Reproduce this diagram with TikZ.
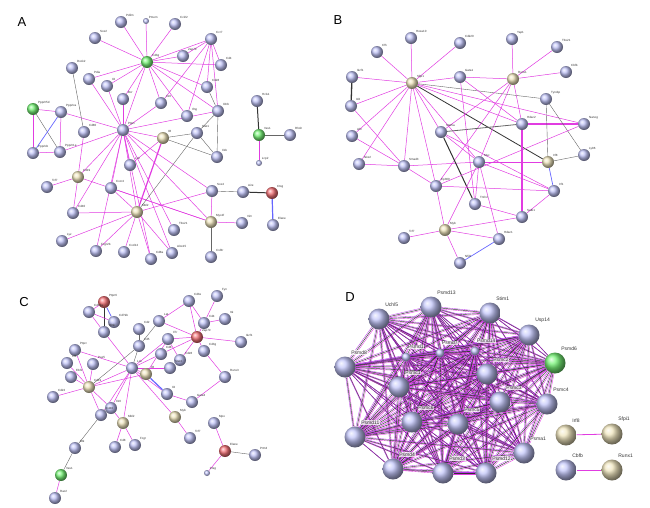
\documentclass[tikz,border=0pt]{standalone}
\usepackage{fontspec}
\setmainfont{Liberation Sans}
\usetikzlibrary{backgrounds,calc}
\definecolor{bl}{RGB}{195,198,250}
\definecolor{tn}{RGB}{240,230,190}
\definecolor{gn}{RGB}{120,245,120}
\definecolor{rd}{RGB}{245,115,120}
\definecolor{mg}{RGB}{225,60,225}
\tikzset{
 nb/.style={circle,shading=ball,minimum size=12pt,inner sep=0pt},
 lbl/.style={font=\fontsize{3}{3}\selectfont,anchor=south west,inner sep=0.5pt,text=black!80},
 lblD/.style={font=\fontsize{5}{5}\selectfont,anchor=south west,inner sep=0.6pt,text=black!80,fill=white,fill opacity=0.75,text opacity=1},
 e/.style={mg,line width=0.5pt},
 g/.style={black!60,line width=0.4pt},
 k/.style={black!80,line width=1pt},
 bu/.style={blue!60,line width=0.7pt},
 panel/.style={font=\fontsize{13}{13}\selectfont},
}
\newcommand\nd[6][]{\node[nb,ball color=#5,#1] (#2) at (#3,#4) {}; \node[lbl] at (#2.north east) {#6};}
\newcommand\ndD[6][]{\node[nb,ball color=#5,minimum size=21pt,#1] (#2) at (#3,#4) {}; \node[lblD] at ($(#2.north east)+(-2,-4)$) {#6};}
\begin{document}
\begin{tikzpicture}[x=1pt,y=-1pt]
\useasboundingbox (0,0) rectangle (650,507);
\node[panel] (LA) at (22,22) {A};
\node[panel] (LB) at (338,20) {B};
\node[panel] (LC) at (24,302) {C};
\node[panel] (LD) at (350,297) {D};
% ---------------- A
\nd{apdl}{121}{22}{bl}{Pdlim}
\nd[minimum size=6pt]{apme}{146}{21}{bl}{Pmem}
\nd{accl}{175}{24}{bl}{Ccl22}
\nd{asox}{95}{38}{bl}{Sox2}
\nd{accr}{211}{39}{bl}{Ccr7}
\nd{acd3}{147}{62}{gn}{Cd3g}
\nd{azap}{183}{56}{bl}{Zap70}
\nd{acd4}{221}{65}{bl}{Cd4}
\nd{adkd}{72}{68}{bl}{Dock2}
\nd{apdi}{89}{79}{bl}{Pdia}
\nd{ailb}{107}{86}{bl}{Il2}
\nd{acdz}{207}{87}{bl}{Cd28}
\nd{abcr}{123}{99}{bl}{Bcr}
\nd{ailt}{161}{103}{bl}{Il10}
\nd{aifn}{187}{116}{bl}{Ifng}
\nd{ail2}{218}{111}{bl}{Il2rb}
\nd{ppg}{33}{109}{gn}{Ppp2r5d}
\nd{ppa}{61}{112}{bl}{Ppp2ca}
\nd{acd8}{84}{132}{bl}{Cd80}
\nd{apt}{123}{130}{bl}{Ptprc}
\nd{ail6}{163}{138}{tn}{Il6}
\nd{ast}{197}{133}{bl}{Stat1}
\nd{ppb}{33}{153}{bl}{Ppp2cb}
\nd{ppr}{60}{152}{bl}{Ppp2r1a}
\nd{ailx}{217}{157}{bl}{Il1b}
\nd{amid}{130}{165}{bl}{Lck}
\nd{acd19}{78}{177}{tn}{Cd19}
\nd{atnf}{47}{187}{bl}{Tcf7}
\nd{acx}{111}{188}{bl}{Cxcr4}
\nd{asx4}{212}{191}{bl}{Sox4}
\nd{aai}{243}{192}{bl}{Aire}
\nd{ard}{272}{193}{rd}{Ctsg}
\nd{acd40}{73}{213}{bl}{Cd40}
\nd{ambl}{137}{212}{tn}{Mbl2}
\nd{amyo}{211}{222}{tn}{Myo1f}
\nd{avim}{242}{223}{bl}{Vim}
\nd{ael}{273}{225}{bl}{Elane}
\nd{atbx}{174}{230}{bl}{Tbx21}
\nd{ax1}{62}{241}{bl}{Lyz}
\nd{afc}{96}{251}{bl}{Fcgr2b}
\nd{acx1}{124}{252}{bl}{Cxcl12}
\nd{acd8b}{151}{259}{bl}{Cd8a}
\nd{aal}{172}{253}{bl}{Alox15}
\nd{acs}{211}{257}{bl}{Csf3r}
\nd{ar1}{257}{101}{bl}{Hcls1}
\nd{ar2}{259}{135}{gn}{Vav1}
\nd{ar3}{290}{135}{bl}{Rhoh}
\nd[minimum size=6pt]{ar4}{259}{163}{bl}{Lcp2}
% ---------------- B
\nd{bhox}{411}{38}{bl}{Hoxa10}
\nd{bcfh}{377}{52}{bl}{Cfh}
\nd{bcdk}{460}{43}{bl}{Cdk20}
\nd{byap}{512}{39}{bl}{Yap1}
\nd{btbx}{557}{47}{bl}{Tbx21}
\nd{bcbf}{566}{72}{bl}{Cbfb}
\nd{bikt}{352}{77}{bl}{Ikzf1}
\nd{bsf}{412}{83}{tn}{Sfpi1}
\nd{bga}{460}{77}{bl}{Gata1}
\nd{bru}{513}{79}{tn}{Runx1}
\nd{bty}{546}{99}{bl}{Tyrobp}
\nd{bid}{351}{106}{bl}{Id2}
\nd{bhd}{522}{124}{bl}{Hdac2}
\nd{bna}{584}{124}{bl}{Nanog}
\nd{bah}{352}{136}{bl}{Ahr}
\nd{bst}{441}{132}{bl}{Stat5a}
\nd{bir}{548}{162}{tn}{Irf8}
\nd{bly}{584}{155}{bl}{Ly86}
\nd{bnk}{359}{164}{bl}{Nkx2}
\nd{bsm}{404}{166}{bl}{Smad3}
\nd{bmy}{479}{162}{bl}{Myc}
\nd{bep}{436}{186}{bl}{Ep300}
\nd{bi1}{554}{191}{bl}{Irf1}
\nd{btn}{475}{204}{bl}{Tnfrsf}
\nd{bsa}{522}{217}{bl}{Satb1}
\nd{bmb}{445}{230}{tn}{Myb}
\nd{btc}{404}{238}{bl}{Tcf7}
\nd{bhc}{499}{239}{bl}{Hdac1}
\nd{bnf}{460}{263}{bl}{Nfil3}
% ---------------- C
\nd{cr1}{104}{302}{rd}{Ptpn6}
\nd{c2}{89}{312}{bl}{Cd79a}
\nd{c3}{114}{322}{bl}{Cd79b}
\nd{c4}{104}{332}{bl}{Blnk}
\nd{c5}{139}{329}{bl}{Cd2}
\nd{c6}{159}{321}{bl}{Lat}
\nd{c7}{189}{301}{bl}{Cd3e}
\nd{c8}{217}{296}{bl}{Fyn}
\nd{c9}{204}{323}{bl}{Cd4}
\nd{c10}{225}{319}{bl}{Itk}
\nd{cr2}{197}{337}{rd}{Zap70}
\nd{c11}{168}{339}{bl}{Il7r}
\nd{c13}{139}{346}{bl}{Cd5}
\nd{c12}{161}{354}{bl}{Cd8}
\nd{c15}{180}{360}{bl}{Cd28}
\nd{c16}{204}{351}{bl}{Cd3g}
\nd{c17}{241}{342}{bl}{Ikzf1}
\nd{c18}{75}{350}{bl}{Ptprc}
\nd{c19a}{67}{363}{bl}{Irf4}
\nd{c20}{93}{364}{bl}{Pax5}
\nd{clck}{132}{368}{bl}{Lck}
\nd{c22}{170}{368}{bl}{Stat3}
\nd{ctn1}{146}{374}{tn}{Il6}
\nd{c21}{71}{377}{bl}{Ebf1}
\nd{c19}{225}{377}{bl}{Runx3}
\nd{ctn2}{89}{387}{tn}{Cd19}
\nd{c27}{53}{397}{bl}{Cd22}
\nd{c28}{167}{394}{bl}{Il2}
\nd{c29}{192}{402}{bl}{Gata3}
\nd{c29b}{111}{408}{bl}{Il10}
\nd{c30}{101}{415}{bl}{Cd40}
\nd{ctn3}{175}{417}{tn}{Myb}
\nd{ctn4}{123}{423}{tn}{Mbl2}
\nd{c33}{214}{423}{bl}{Mpo}
\nd{c37}{190}{438}{bl}{Tcf7}
\nd{c34}{115}{447}{bl}{Cd8}
\nd{c35}{135}{445}{bl}{Fcgr}
\nd{c36}{75}{448}{bl}{Btk}
\nd{cr3}{225}{451}{rd}{Elane}
\nd{c38}{255}{455}{bl}{Prtn3}
\nd[minimum size=6pt]{c40}{207}{473}{bl}{Ctsg}
\nd{cgn}{61}{475}{gn}{Vav1}
\nd{c42}{55}{498}{bl}{Rac2}
% ---------------- D
\ndD{d1}{379}{319}{bl}{Uchl5}
\ndD{d2}{431}{307}{bl}{Psmd13}
\ndD{d3}{490}{313}{bl}{Stim1}
\ndD{d4}{529}{335}{bl}{Usp14}
\ndD{d5}{555}{363}{gn}{Psmd6}
\ndD{d6}{345}{367}{bl}{Psmd8}
\ndD[minimum size=9pt]{d7}{406}{357}{bl}{Psmd1}
\ndD[minimum size=9pt]{d8}{440}{353}{bl}{Psmd7}
\ndD[minimum size=9pt]{d9}{475}{351}{bl}{Psmd14}
\ndD{d10}{487}{374}{bl}{Psmc2}
\ndD{d11}{399}{387}{bl}{Psmc1}
\ndD{d12}{500}{402}{bl}{Psmc3}
\ndD{d13}{547}{404}{bl}{Psmc4}
\ndD{d14}{412}{422}{bl}{Psmc6}
\ndD{d15}{458}{424}{bl}{Psmc5}
\ndD{d16}{355}{437}{bl}{Psmd11}
\ndD{d17}{524}{453}{bl}{Psma1}
\ndD{d18}{393}{469}{bl}{Psmd4}
\ndD{d19}{443}{473}{bl}{Psmd3}
\ndD{d20}{486}{473}{bl}{Psmd12}
\ndD{di8}{566}{435}{tn}{Irf8}
\ndD{dsf}{612}{434}{tn}{Sfpi1}
\ndD{dcb}{566}{470}{bl}{Cbfb}
\ndD{dru}{612}{470}{tn}{Runx1}
\begin{scope}[on background layer]
% A edges
\foreach \t in {apdl,apme,accl,asox,accr,azap,acd4,apdi,ailb,abcr,ailt,aifn,acdz,ail2,apt}\draw[e] (acd3)--(\t);
\foreach \t in {azap,acd4,acdz,ailt,aifn,ail2}\draw[e] (accr)--(\t);
\draw[g] (acdz)--(ail2); \draw[g] (ail2)--(ailx); \draw[g] (ail2)--(ast);
\foreach \t in {ppa,apdi,ailb,abcr,ailt,ail2,ail6,amid,acd19,acx,ambl,asx4,atbx,acd40,acd8b,aal,afc,ppr}\draw[e] (apt)--(\t);
\draw[e] (ppg)--(ppa); \draw[e] (ppg)--(ppb); \draw[g] (ppg)--(ppr); \draw[bu] (ppa)--(ppb); \draw[e] (ppa)--(ppr); \draw[e] (ppb)--(ppr);
\draw[g] (adkd)--(acd8); \draw[e] (acd8)--(acd19); \draw[e] (acd19)--(atnf); \draw[e] (acd19)--(amyo); \draw[e] (acd19)--(acd40);
\draw[g] (ail6)--(ast); \draw[g] (ail6)--(ailx); \draw[e] (ail6)--(amid); \draw[e,line width=1.2pt] (ail6)--(ambl);
\draw[g] (ast)--(ailx); \draw[g] (ast)--(ambl);
\foreach \t in {acd40,acx,ax1,afc,acx1,acd8b,aal,asx4}\draw[e] (ambl)--(\t);
\draw[g] (asx4)--(aai); \draw[k] (aai)--(ard); \draw[bu,line width=1.2pt] (ard)--(ael); \draw[e] (asx4)--(amyo); \draw[e] (amyo)--(avim); \draw[g] (amyo)--(acs); \draw[e] (amyo)--(acx); \draw[e] (apt)--(amyo);
\draw[k] (ar2)--(ar1); \draw[g] (ar2)--(ar3); \draw[e] (ar2)--(ar4);
% B edges
\foreach \t in {bhox,bcfh,bcdk,bikt,bid,bga,bhd,bna,bst,bah,bnk,bsm,bep,bmy}\draw[e] (bsf)--(\t);
\draw[g] (bsf)--(bty); \draw[k,line width=0.8pt] (bsf)--(bir);
\foreach \t in {byap,btbx,bcbf,bga,bst,bmy,bep,bhd}\draw[e] (bru)--(\t);
\draw[k,line width=1.3pt] (bikt)--(bid); \draw[e] (bid)--(bsm); \draw[e] (bah)--(bsm); \draw[e] (bnk)--(bsm);
\draw[e] (bsm)--(bmy); \draw[e] (bsm)--(bep); \draw[g,line width=0.8pt] (bst)--(bhd); \draw[e] (bst)--(bmy); \draw[k] (bst)--(btn); \draw[e] (bst)--(bi1);
\draw[e,line width=1.2pt] (bhd)--(bna); \draw[e,line width=1.2pt] (bhd)--(bsa); \draw[g] (bty)--(bir); \draw[g] (bty)--(bly); \draw[g] (bir)--(bly); \draw[bu] (bir)--(bi1);
\draw[e] (bir)--(bmy); \draw[e] (bna)--(bep);
\foreach \t in {btn,bmb,bi1,bhc}\draw[e] (bmy)--(\t);
\draw[e] (bep)--(bi1); \draw[e] (bep)--(bmb); \draw[e] (btn)--(bsa); \draw[e] (bmb)--(btc); \draw[e] (bmb)--(bsa); \draw[e] (bmb)--(bhc); \draw[e] (bmb)--(bnf); \draw[bu] (bhc)--(bnf); \draw[e] (bsa)--(bi1); \draw[e] (bga)--(bhd); \draw[e] (bga)--(btn);
% C edges
\draw[e] (cr1)--(c2); \draw[bu] (cr1)--(c3); \draw[k] (cr1)--(c4); \draw[e] (c2)--(c3); \draw[e] (c2)--(c4); \draw[e] (c4)--(clck);
\draw[g] (c5)--(c13); \draw[g] (c6)--(c13); \draw[e] (c6)--(c7); \draw[e] (c6)--(cr2); \draw[e] (c7)--(cr2); \draw[e] (c7)--(c9); \draw[e] (c8)--(c9); \draw[e] (c9)--(c10); \draw[e] (c9)--(cr2);
\foreach \t in {c11,c16,c17,c15,c12}\draw[e] (cr2)--(\t);
\draw[e] (c11)--(c15); \draw[e] (c11)--(ctn1); \draw[g] (c13)--(clck); \draw[g] (c13)--(ctn2); \draw[e] (c16)--(c19); \draw[e] (c19)--(c29); \draw[e] (c29)--(c28);
\foreach \t in {ctn1,c12,c22,c18,c11,ctn2,c29b,c30,ctn4,ctn3,c28}\draw[e] (clck)--(\t);
\foreach \t in {c18,c19a,c20,c21,c27,c30,c29b,ctn1}\draw[e] (ctn2)--(\t);
\draw[e] (ctn4)--(c29b); \draw[e] (ctn4)--(c34); \draw[e] (ctn4)--(c35); \draw[bu,line width=1.2pt] (ctn1)--(c28); \draw[e] (ctn3)--(c37);
\draw[g] (c30)--(c36); \draw[g] (c36)--(cgn); \draw[e] (cgn)--(c42);
\draw[e] (cr3)--(c33); \draw[g] (cr3)--(c38); \draw[e] (cr3)--(c40);
% D clique
\foreach \i [count=\a] in {d1,d2,d3,d4,d5,d6,d7,d8,d9,d10,d11,d12,d13,d14,d15,d16,d17,d18,d19,d20}{
 \foreach \j [count=\b] in {d1,d2,d3,d4,d5,d6,d7,d8,d9,d10,d11,d12,d13,d14,d15,d16,d17,d18,d19,d20}{
  \ifnum\a<\b
   \draw[mg,line width=0.35pt] ($(\i)+(0.9,0.9)$)--($(\j)+(0.9,0.9)$);
   \draw[black!80,line width=0.45pt] (\i)--(\j);
   \draw[mg!80!blue,line width=0.3pt] ($(\i)+(-0.9,-0.9)$)--($(\j)+(-0.9,-0.9)$);
  \fi
 }
}
\draw[e,line width=0.8pt] (di8)--(dsf); \draw[e,line width=0.8pt] (dcb)--(dru);
\end{scope}
\end{tikzpicture}
\end{document}
